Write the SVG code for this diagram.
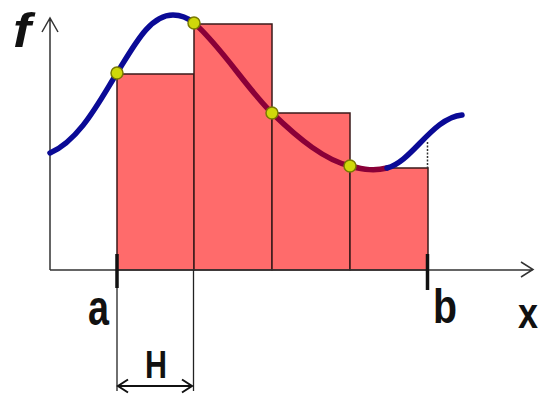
<svg xmlns="http://www.w3.org/2000/svg" width="544" height="394" viewBox="0 0 544 394">
<style>
.bar{fill:#ff6b6b;stroke:#3a1a1a;stroke-width:1.5}
.ax{stroke:#333;stroke-width:1.5;fill:none}
.tick{stroke:#111;stroke-width:3.5}
.cb{fill:none;stroke:#0a0a96;stroke-width:5.5;stroke-linecap:round}
.cm{fill:none;stroke:#8a0038;stroke-width:5.5;stroke-linecap:round}
.pt{fill:#cfd80a;stroke:#7a7a00;stroke-width:1.5}
.lbl{font-family:"Liberation Sans",Arial,sans-serif;font-weight:bold;fill:#111}
</style>
<rect width="544" height="394" fill="#fff"/>
<g id="bars">
<rect id="bar1" class="bar" x="117" y="74" width="77" height="196"/>
<rect id="bar2" class="bar" x="194" y="24" width="78" height="246"/>
<rect id="bar3" class="bar" x="272" y="113" width="78" height="157"/>
<rect id="bar4" class="bar" x="350" y="168" width="78" height="102"/>
</g>
<g id="connectors">
<path class="ax" d="M50,270 V18 M42,32 L50,18 L58,32"/>
<path class="ax" d="M50,270 H533 M521,262 L533,269.5 L521,277"/>
<line x1="427.5" y1="142" x2="427.5" y2="168" stroke="#333" stroke-width="1.5" stroke-dasharray="2,1.5"/>
<line x1="117" y1="270" x2="117" y2="391" stroke="#222" stroke-width="1.3"/>
<line x1="193.5" y1="270" x2="193.5" y2="391" stroke="#222" stroke-width="1.3"/>
<path d="M118,386 H192 M128,379.5 L118,386 L128,392.5 M182,379.5 L192,386 L182,392.5" fill="none" stroke="#111" stroke-width="2"/>
<line class="tick" x1="117" y1="254" x2="117" y2="288"/>
<line class="tick" x1="427.5" y1="254" x2="427.5" y2="290"/>
</g>
<g id="curve">
<path class="cb" d="M50,153 C80,140 100,100 117,73 C135,44 150,15 173,15 C182,15 188,18 194,23"/>
<path class="cm" d="M194,23 C220,45 248,90 272,113 C300,140 325,160 350,166 C365,170 375,171 387,168"/>
<path class="cb" d="M387,168 C412,162 432,118 462,115"/>
</g>
<g id="points">
<circle class="pt" cx="117" cy="73" r="6"/>
<circle class="pt" cx="194" cy="23" r="6"/>
<circle class="pt" cx="272" cy="113" r="6"/>
<circle class="pt" cx="350" cy="166" r="6"/>
</g>
<g id="labels">
<text class="lbl" x="13" y="47" font-size="48" font-style="italic" textLength="18" lengthAdjust="spacingAndGlyphs">f</text>
<text class="lbl" x="88" y="325" font-size="50" textLength="21" lengthAdjust="spacingAndGlyphs">a</text>
<text class="lbl" x="433" y="323" font-size="49" textLength="24" lengthAdjust="spacingAndGlyphs">b</text>
<text class="lbl" x="518" y="328" font-size="42" textLength="20" lengthAdjust="spacingAndGlyphs">x</text>
<text class="lbl" x="145" y="378" font-size="39" textLength="22" lengthAdjust="spacingAndGlyphs">H</text>
</g>
</svg>
